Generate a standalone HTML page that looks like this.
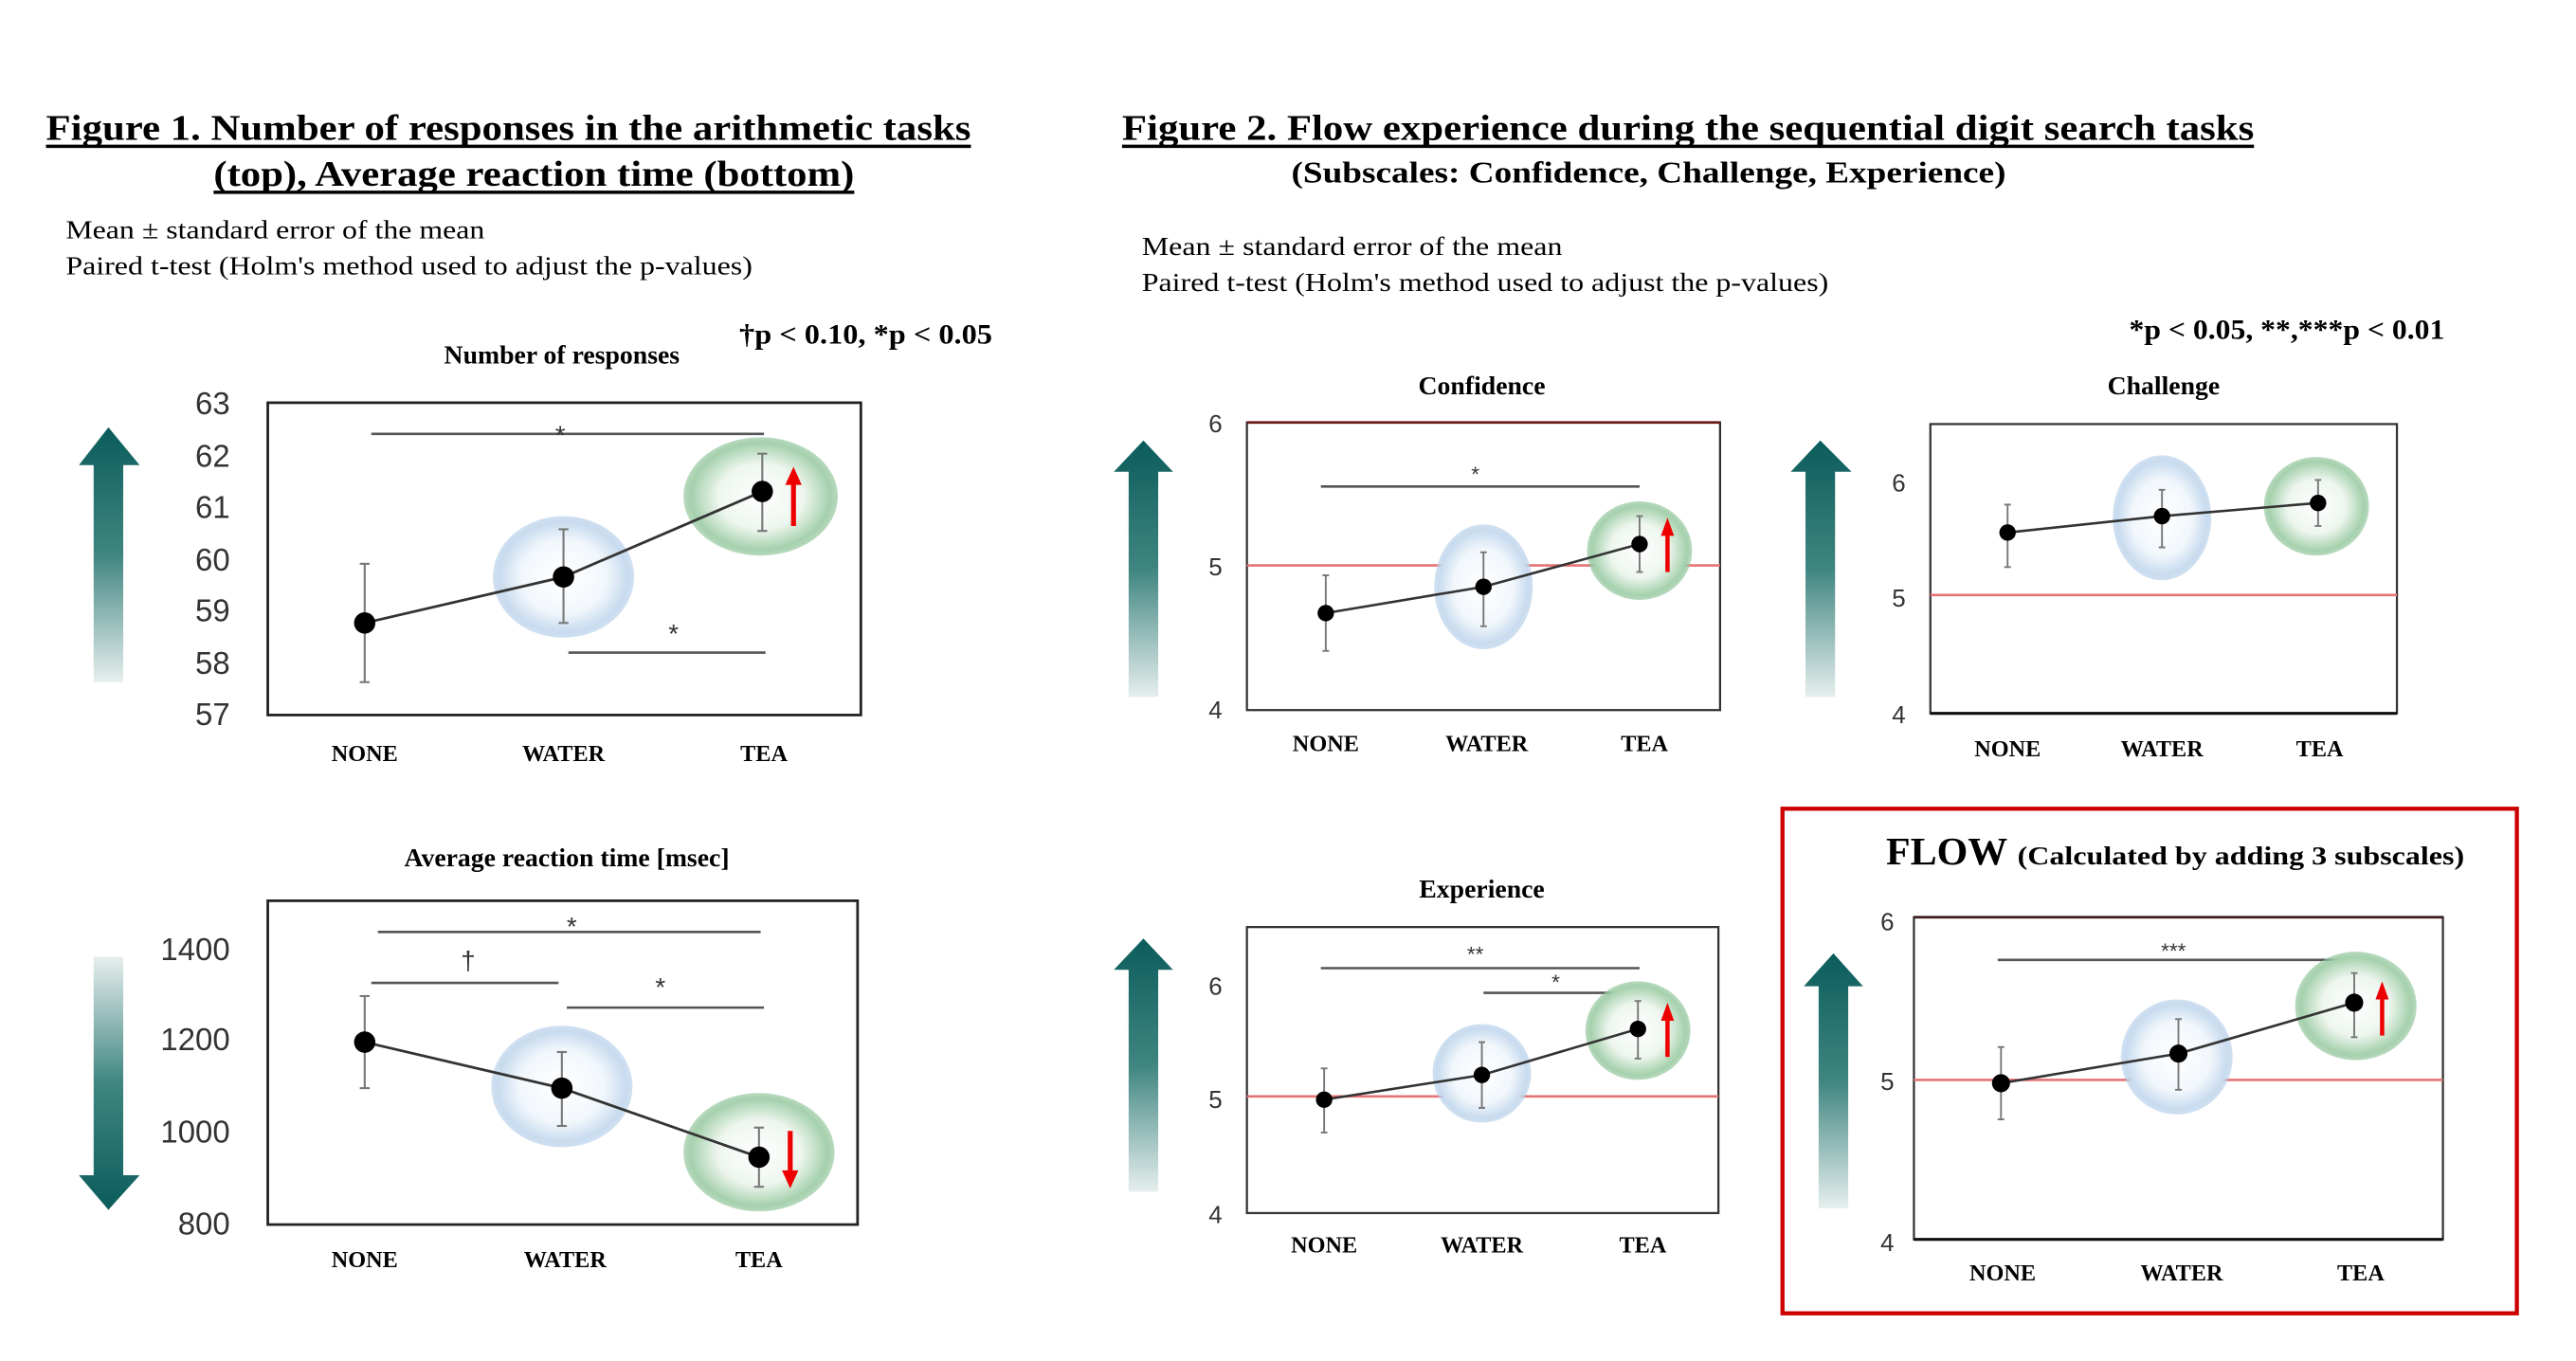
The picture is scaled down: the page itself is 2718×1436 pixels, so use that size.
<!DOCTYPE html>
<html><head><meta charset="utf-8"><style>
html,body{margin:0;padding:0;background:#fff;}
svg{display:block;}
.t{font-family:"Liberation Serif",serif;font-weight:bold;fill:#000;}
.n{font-family:"Liberation Serif",serif;fill:#000;}
.ax{font-family:"Liberation Sans",sans-serif;fill:#333;}
.xl{font-family:"Liberation Serif",serif;font-weight:bold;font-size:14px;fill:#000;text-anchor:middle;}
.st{font-family:"Liberation Sans",sans-serif;fill:#333;text-anchor:middle;}
</style></head><body>
<svg width="2718" height="1436" viewBox="0 0 1568 828" preserveAspectRatio="none" xmlns="http://www.w3.org/2000/svg">
<defs>
<radialGradient id="bl" cx="50%" cy="50%" r="50%"><stop offset="0" stop-color="#fff"/><stop offset="0.6" stop-color="#f2f7fc"/><stop offset="0.9" stop-color="#c9dcef"/><stop offset="1" stop-color="#b3cde8" stop-opacity="0.6"/></radialGradient>
<radialGradient id="gr" cx="50%" cy="50%" r="50%"><stop offset="0" stop-color="#fff"/><stop offset="0.55" stop-color="#eef6ef"/><stop offset="0.9" stop-color="#a6d1ad"/><stop offset="1" stop-color="#8cc296" stop-opacity="0.6"/></radialGradient>
<linearGradient id="up" x1="0" y1="0" x2="0" y2="1"><stop offset="0" stop-color="#0b5c5c"/><stop offset="0.5" stop-color="#3f8580"/><stop offset="1" stop-color="#e6efee"/></linearGradient>
<linearGradient id="dn" x1="0" y1="1" x2="0" y2="0"><stop offset="0" stop-color="#0b5c5c"/><stop offset="0.5" stop-color="#3f8580"/><stop offset="1" stop-color="#e6efee"/></linearGradient>
</defs>

<text class="t" x="28" y="85" font-size="22" textLength="563" lengthAdjust="spacingAndGlyphs">Figure 1.  Number of responses in the arithmetic tasks</text>
<line x1="28" y1="89" x2="591" y2="89" stroke="#000" stroke-width="2"/>
<text class="t" x="130" y="113" font-size="22" textLength="390" lengthAdjust="spacingAndGlyphs">(top), Average reaction time (bottom)</text>
<line x1="130" y1="117" x2="520" y2="117" stroke="#000" stroke-width="2"/>
<text class="n" x="40" y="145" font-size="16" textLength="255" lengthAdjust="spacingAndGlyphs">Mean ± standard error of the mean</text>
<text class="n" x="40" y="167" font-size="16" textLength="418" lengthAdjust="spacingAndGlyphs">Paired t-test (Holm's method used to adjust the p-values)</text>
<text class="t" x="450" y="209" font-size="17" textLength="154" lengthAdjust="spacingAndGlyphs">†p &lt; 0.10, *p &lt; 0.05</text>
<text class="t" x="342" y="221" font-size="16" text-anchor="middle">Number of responses</text>

<polygon points="48,283 66,260 85,283 75,283 75,415 57,415 57,283" fill="url(#up)"/>
<rect x="163" y="245" width="361" height="190" fill="none" stroke="#222" stroke-width="1.6"/>
<g class="ax" font-size="19" text-anchor="end">
<text x="140" y="252">63</text><text x="140" y="284">62</text><text x="140" y="315">61</text><text x="140" y="347">60</text><text x="140" y="378">59</text><text x="140" y="410">58</text><text x="140" y="441">57</text>
</g>
<line x1="226" y1="264" x2="465" y2="264" stroke="#555" stroke-width="1.5"/>
<text class="st" x="341" y="270" font-size="16">*</text>
<line x1="346" y1="397" x2="466" y2="397" stroke="#555" stroke-width="1.5"/>
<text class="st" x="410" y="391" font-size="16">*</text>
<ellipse cx="343" cy="351" rx="43" ry="37" fill="url(#bl)"/>
<ellipse cx="463" cy="302" rx="47" ry="36" fill="url(#gr)"/>
<polyline points="222,379 343,351 464,299" fill="none" stroke="#333" stroke-width="1.6"/>
<g stroke="#777" stroke-width="1.2">
<line x1="222" y1="343" x2="222" y2="415"/><line x1="219" y1="343" x2="225" y2="343"/><line x1="219" y1="415" x2="225" y2="415"/>
<line x1="343" y1="322" x2="343" y2="379"/><line x1="340" y1="322" x2="346" y2="322"/><line x1="340" y1="379" x2="346" y2="379"/>
<line x1="464" y1="276" x2="464" y2="323"/><line x1="461" y1="276" x2="467" y2="276"/><line x1="461" y1="323" x2="467" y2="323"/>
</g>
<circle cx="222" cy="379" r="6.5" fill="#000"/><circle cx="343" cy="351" r="6.5" fill="#000"/><circle cx="464" cy="299" r="6.5" fill="#000"/>
<line x1="483" y1="320" x2="483" y2="293" stroke="#e00" stroke-width="3"/><polygon points="478,295 483,284 488,295" fill="#e00"/>
<text class="xl" x="222" y="463">NONE</text><text class="xl" x="343" y="463">WATER</text><text class="xl" x="465" y="463">TEA</text>

<text class="t" x="345" y="527" font-size="16" text-anchor="middle">Average reaction time [msec]</text>
<polygon points="57,582 75,582 75,715 85,715 66,736 48,715 57,715" fill="url(#dn)"/>
<rect x="163" y="548" width="359" height="197" fill="none" stroke="#222" stroke-width="1.6"/>
<g class="ax" font-size="19" text-anchor="end">
<text x="140" y="584">1400</text><text x="140" y="639">1200</text><text x="140" y="695">1000</text><text x="140" y="751">800</text>
</g>
<line x1="230" y1="567" x2="463" y2="567" stroke="#555" stroke-width="1.5"/>
<text class="st" x="348" y="569" font-size="16">*</text>
<line x1="226" y1="598" x2="340" y2="598" stroke="#555" stroke-width="1.5"/>
<text class="st" x="285" y="590" font-size="16">†</text>
<line x1="345" y1="613" x2="465" y2="613" stroke="#555" stroke-width="1.5"/>
<text class="st" x="402" y="606" font-size="16">*</text>
<ellipse cx="342" cy="661" rx="43" ry="37" fill="url(#bl)"/>
<ellipse cx="462" cy="701" rx="46" ry="36" fill="url(#gr)"/>
<polyline points="222,634 342,662 462,704" fill="none" stroke="#333" stroke-width="1.6"/>
<g stroke="#777" stroke-width="1.2">
<line x1="222" y1="606" x2="222" y2="662"/><line x1="219" y1="606" x2="225" y2="606"/><line x1="219" y1="662" x2="225" y2="662"/>
<line x1="342" y1="640" x2="342" y2="685"/><line x1="339" y1="640" x2="345" y2="640"/><line x1="339" y1="685" x2="345" y2="685"/>
<line x1="462" y1="686" x2="462" y2="722"/><line x1="459" y1="686" x2="465" y2="686"/><line x1="459" y1="722" x2="465" y2="722"/>
</g>
<circle cx="222" cy="634" r="6.5" fill="#000"/><circle cx="342" cy="662" r="6.5" fill="#000"/><circle cx="462" cy="704" r="6.5" fill="#000"/>
<line x1="481" y1="688" x2="481" y2="714" stroke="#e00" stroke-width="3"/><polygon points="476,712 481,723 486,712" fill="#e00"/>
<text class="xl" x="222" y="771">NONE</text><text class="xl" x="344" y="771">WATER</text><text class="xl" x="462" y="771">TEA</text>

<text class="t" x="683" y="85" font-size="22" textLength="689" lengthAdjust="spacingAndGlyphs">Figure 2.  Flow experience during the sequential digit search tasks</text>
<line x1="683" y1="89" x2="1372" y2="89" stroke="#000" stroke-width="2"/>
<text class="t" x="786" y="111" font-size="18" textLength="435" lengthAdjust="spacingAndGlyphs">(Subscales: Confidence, Challenge, Experience)</text>
<text class="n" x="695" y="155" font-size="16" textLength="256" lengthAdjust="spacingAndGlyphs">Mean ± standard error of the mean</text>
<text class="n" x="695" y="177" font-size="16" textLength="418" lengthAdjust="spacingAndGlyphs">Paired t-test (Holm's method used to adjust the p-values)</text>
<text class="t" x="1296" y="206" font-size="17" textLength="192" lengthAdjust="spacingAndGlyphs">*p &lt; 0.05, **,***p &lt; 0.01</text>

<text class="t" x="902" y="240" font-size="16" text-anchor="middle">Confidence</text>
<polygon points="678,287 696,268 714,287 705,287 705,424 687,424 687,287" fill="url(#up)"/>
<rect x="759" y="257" width="288" height="175" fill="none" stroke="#333" stroke-width="1.3"/>
<line x1="759" y1="257" x2="1047" y2="257" stroke="#6b1a1a" stroke-width="1.6"/>
<g class="ax" font-size="15" text-anchor="end"><text x="744" y="263">6</text><text x="744" y="350">5</text><text x="744" y="437">4</text></g>
<line x1="759" y1="344" x2="1047" y2="344" stroke="#e57373" stroke-width="1.5"/>
<line x1="804" y1="296" x2="998" y2="296" stroke="#555" stroke-width="1.5"/>
<text class="st" x="898" y="293" font-size="13">*</text>
<ellipse cx="903" cy="357" rx="30" ry="38" fill="url(#bl)"/>
<ellipse cx="998" cy="335" rx="32" ry="30" fill="url(#gr)"/>
<polyline points="807,373 903,357 998,331" fill="none" stroke="#333" stroke-width="1.5"/>
<g stroke="#777" stroke-width="1.1">
<line x1="807" y1="350" x2="807" y2="396"/><line x1="805" y1="350" x2="809" y2="350"/><line x1="805" y1="396" x2="809" y2="396"/>
<line x1="903" y1="336" x2="903" y2="381"/><line x1="901" y1="336" x2="905" y2="336"/><line x1="901" y1="381" x2="905" y2="381"/>
<line x1="998" y1="314" x2="998" y2="348"/><line x1="996" y1="314" x2="1000" y2="314"/><line x1="996" y1="348" x2="1000" y2="348"/>
</g>
<circle cx="807" cy="373" r="5" fill="#000"/><circle cx="903" cy="357" r="5" fill="#000"/><circle cx="998" cy="331" r="5" fill="#000"/>
<line x1="1015" y1="348" x2="1015" y2="324" stroke="#e00" stroke-width="2.6"/><polygon points="1011,326 1015,315 1019,326" fill="#e00"/>
<text class="xl" x="807" y="457">NONE</text><text class="xl" x="905" y="457">WATER</text><text class="xl" x="1001" y="457">TEA</text>

<text class="t" x="1317" y="240" font-size="16" text-anchor="middle">Challenge</text>
<polygon points="1090,287 1108,268 1127,287 1117,287 1117,424 1099,424 1099,287" fill="url(#up)"/>
<rect x="1175" y="258" width="284" height="176" fill="none" stroke="#333" stroke-width="1.3"/>
<line x1="1175" y1="434" x2="1459" y2="434" stroke="#111" stroke-width="1.8"/>
<g class="ax" font-size="15" text-anchor="end"><text x="1160" y="299">6</text><text x="1160" y="369">5</text><text x="1160" y="440">4</text></g>
<line x1="1175" y1="362" x2="1459" y2="362" stroke="#e57373" stroke-width="1.5"/>
<ellipse cx="1316" cy="315" rx="30" ry="38" fill="url(#bl)"/>
<ellipse cx="1410" cy="308" rx="32" ry="30" fill="url(#gr)"/>
<polyline points="1222,324 1316,314 1411,306" fill="none" stroke="#333" stroke-width="1.5"/>
<g stroke="#777" stroke-width="1.1">
<line x1="1222" y1="307" x2="1222" y2="345"/><line x1="1220" y1="307" x2="1224" y2="307"/><line x1="1220" y1="345" x2="1224" y2="345"/>
<line x1="1316" y1="298" x2="1316" y2="333"/><line x1="1314" y1="298" x2="1318" y2="298"/><line x1="1314" y1="333" x2="1318" y2="333"/>
<line x1="1411" y1="292" x2="1411" y2="320"/><line x1="1409" y1="292" x2="1413" y2="292"/><line x1="1409" y1="320" x2="1413" y2="320"/>
</g>
<circle cx="1222" cy="324" r="5" fill="#000"/><circle cx="1316" cy="314" r="5" fill="#000"/><circle cx="1411" cy="306" r="5" fill="#000"/>
<text class="xl" x="1222" y="460">NONE</text><text class="xl" x="1316" y="460">WATER</text><text class="xl" x="1412" y="460">TEA</text>

<text class="t" x="902" y="546" font-size="16" text-anchor="middle">Experience</text>
<polygon points="678,590 696,571 714,590 705,590 705,725 687,725 687,590" fill="url(#up)"/>
<rect x="759" y="564" width="287" height="174" fill="none" stroke="#333" stroke-width="1.3"/>
<g class="ax" font-size="15" text-anchor="end"><text x="744" y="605">6</text><text x="744" y="674">5</text><text x="744" y="744">4</text></g>
<line x1="759" y1="667" x2="1046" y2="667" stroke="#e57373" stroke-width="1.5"/>
<line x1="804" y1="589" x2="998" y2="589" stroke="#555" stroke-width="1.5"/>
<text class="st" x="898" y="585" font-size="13">**</text>
<line x1="903" y1="604" x2="998" y2="604" stroke="#555" stroke-width="1.5"/>
<text class="st" x="947" y="602" font-size="13">*</text>
<ellipse cx="902" cy="653" rx="30" ry="30" fill="url(#bl)"/>
<ellipse cx="997" cy="627" rx="32" ry="30" fill="url(#gr)"/>
<polyline points="806,669 902,654 997,626" fill="none" stroke="#333" stroke-width="1.5"/>
<g stroke="#777" stroke-width="1.1">
<line x1="806" y1="650" x2="806" y2="689"/><line x1="804" y1="650" x2="808" y2="650"/><line x1="804" y1="689" x2="808" y2="689"/>
<line x1="902" y1="634" x2="902" y2="674"/><line x1="900" y1="634" x2="904" y2="634"/><line x1="900" y1="674" x2="904" y2="674"/>
<line x1="997" y1="609" x2="997" y2="644"/><line x1="995" y1="609" x2="999" y2="609"/><line x1="995" y1="644" x2="999" y2="644"/>
</g>
<circle cx="806" cy="669" r="5" fill="#000"/><circle cx="902" cy="654" r="5" fill="#000"/><circle cx="997" cy="626" r="5" fill="#000"/>
<line x1="1015" y1="643" x2="1015" y2="619" stroke="#e00" stroke-width="2.6"/><polygon points="1011,621 1015,610 1019,621" fill="#e00"/>
<text class="xl" x="806" y="762">NONE</text><text class="xl" x="902" y="762">WATER</text><text class="xl" x="1000" y="762">TEA</text>

<rect x="1085" y="492" width="447" height="307" fill="none" stroke="#c00" stroke-width="2.5"/>
<text class="t" x="1148" y="526" font-size="24" textLength="74" lengthAdjust="spacingAndGlyphs">FLOW</text>
<text class="t" x="1228" y="526" font-size="16" textLength="272" lengthAdjust="spacingAndGlyphs">(Calculated by adding 3 subscales)</text>
<polygon points="1098,600 1116,580 1134,600 1125,600 1125,735 1107,735 1107,600" fill="url(#up)"/>
<rect x="1165" y="558" width="322" height="196" fill="none" stroke="#333" stroke-width="1.3"/>
<line x1="1165" y1="558" x2="1487" y2="558" stroke="#3a1a1a" stroke-width="1.6"/>
<line x1="1165" y1="754" x2="1487" y2="754" stroke="#111" stroke-width="1.8"/>
<g class="ax" font-size="15" text-anchor="end"><text x="1153" y="566">6</text><text x="1153" y="663">5</text><text x="1153" y="761">4</text></g>
<line x1="1165" y1="657" x2="1487" y2="657" stroke="#e57373" stroke-width="1.5"/>
<line x1="1216" y1="584" x2="1433" y2="584" stroke="#555" stroke-width="1.5"/>
<text class="st" x="1323" y="583" font-size="13">***</text>
<ellipse cx="1325" cy="643" rx="34" ry="35" fill="url(#bl)"/>
<ellipse cx="1434" cy="612" rx="37" ry="33" fill="url(#gr)"/>
<polyline points="1218,659 1326,641 1433,610" fill="none" stroke="#333" stroke-width="1.5"/>
<g stroke="#777" stroke-width="1.1">
<line x1="1218" y1="637" x2="1218" y2="681"/><line x1="1216" y1="637" x2="1220" y2="637"/><line x1="1216" y1="681" x2="1220" y2="681"/>
<line x1="1326" y1="620" x2="1326" y2="663"/><line x1="1324" y1="620" x2="1328" y2="620"/><line x1="1324" y1="663" x2="1328" y2="663"/>
<line x1="1433" y1="592" x2="1433" y2="631"/><line x1="1431" y1="592" x2="1435" y2="592"/><line x1="1431" y1="631" x2="1435" y2="631"/>
</g>
<circle cx="1218" cy="659" r="5.5" fill="#000"/><circle cx="1326" cy="641" r="5.5" fill="#000"/><circle cx="1433" cy="610" r="5.5" fill="#000"/>
<line x1="1450" y1="630" x2="1450" y2="606" stroke="#e00" stroke-width="2.6"/><polygon points="1446,608 1450,597 1454,608" fill="#e00"/>
<text class="xl" x="1219" y="779">NONE</text><text class="xl" x="1328" y="779">WATER</text><text class="xl" x="1437" y="779">TEA</text>
</svg>
</body></html>
